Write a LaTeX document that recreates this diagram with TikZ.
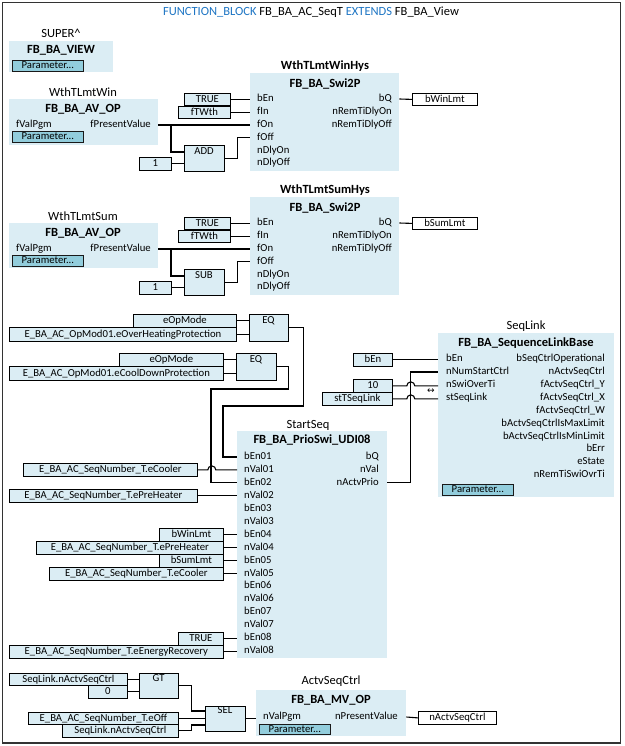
\documentclass[tikz,border=0pt]{standalone}
\usepackage{fontspec}
\setmainfont{Carlito}
\newfontfamily\dejavu{DejaVu Sans}
\definecolor{fbfill}{RGB}{219,237,244}
\definecolor{parfill}{RGB}{146,205,220}
\definecolor{tblue}{RGB}{31,118,196}
\begin{document}
\begin{tikzpicture}[x=1pt,y=-1pt,
 pinf/.style={font=\fontsize{10.7}{12}\selectfont, inner sep=0pt, text height=7.3pt, text depth=2pt},
 pinl/.style={pinf, anchor=west},
 pinr/.style={pinf, anchor=east},
 lbl/.style={font=\fontsize{12.5}{14}\selectfont, inner sep=0pt},
 ttl/.style={font=\bfseries\fontsize{12.5}{14}\selectfont, inner sep=0pt},
 sz/.style 2 args={minimum width=#1pt, minimum height=#2pt},
 fb/.style={fill=fbfill, draw=none, inner sep=0pt, anchor=north west},
 inbox/.style={pinf, fill=fbfill, draw=black, line width=0.8pt, anchor=north west},
 outbox/.style={pinf, fill=white, draw=black, line width=0.8pt, anchor=north west},
 parbtn/.style={pinf, fill=parfill, draw=black!90, line width=0.8pt, anchor=north west},
 wire/.style={line width=1.1pt, black}]
\useasboundingbox (0,0) rectangle (624,746);
\fill[white] (0,0) rectangle (624,746);
\draw[line width=1.3pt, black!80] (2.5,2.5) rectangle (620.5,743);

% title
\node[lbl] (title) at (311,12) {\textcolor{tblue}{FUNCTION\_BLOCK} FB\_BA\_AC\_SeqT \textcolor{tblue}{EXTENDS} FB\_BA\_View};

% SUPER
\node[lbl] (superlbl) at (61,33) {SUPER\textasciicircum};
\node[fb, sz={104}{31}] (view) at (9,41) {};
\node[ttl] (viewt) at (61,50) {FB\_BA\_VIEW};
\node[parbtn, sz={71}{11}] (viewp) at (12,60) {Parameter...};

% WthTLmtWin
\node[lbl] (avwl) at (83,92) {WthTLmtWin};
\node[fb, sz={149}{46}] (avw) at (9,99) {};
\node[ttl] (avwt) at (83,109) {FB\_BA\_AV\_OP};
\node[pinl] (avwin) at (16,125) {fValPgm};
\node[pinr] (avwout) at (151,125) {fPresentValue};
\node[parbtn, sz={71}{11}] (avwp) at (12,131) {Parameter...};

% WthTLmtWinHys
\node[ttl] (sw1l) at (325,66) {WthTLmtWinHys};
\node[fb, sz={149}{98}] (sw1) at (250,73) {};
\node[ttl] (sw1t) at (325,84) {FB\_BA\_Swi2P};
\foreach \t [count=\i from 0] in {bEn,fIn,fOn,fOff,nDlyOn,nDlyOff}
  \node[pinl] (sw1i\i) at (257,{99+12.85*\i}) {\t};
\foreach \t [count=\i from 0] in {bQ,nRemTiDlyOn,nRemTiDlyOff}
  \node[pinr] (sw1o\i) at (392,{99+12.85*\i}) {\t};
\node[inbox, sz={46}{12}] (tru1) at (184,93) {TRUE};
\node[inbox, sz={52}{12}] (ftw1) at (178,106) {fTWth};
\node[outbox, sz={65}{12}] (bwin) at (412,93) {bWinLmt};
\node[inbox, sz={40}{26}] (add1) at (184,145) {};
\node[pinf] (add1t) at (204,152) {ADD};
\node[inbox, sz={32}{13}] (one1) at (139,157) {1};
\coordinate (add1a) at (184,152);
\coordinate (br1) at (171,125);

\draw[wire] (tru1.east) -- (tru1.east -| sw1.west);
\draw[wire] (ftw1.east) -- (ftw1.east -| sw1.west);
\draw[wire] (sw1o0.east -| sw1.east) -- (bwin.west);
\draw[wire] (avwout.east -| avw.east) -- (avwout.east -| sw1.west);
\draw[wire] (br1) |- (add1a);
\draw[wire] (one1.east) -- (one1.east -| add1.west);
\draw[wire] (add1.east) -- ++(13,0) |- (sw1i3.west -| sw1.west);

% WthTLmtSum
\node[lbl] (avsl) at (83,216) {WthTLmtSum};
\node[fb, sz={149}{45}] (avs) at (9,223) {};
\node[ttl] (avst) at (83,233) {FB\_BA\_AV\_OP};
\node[pinl] (avsin) at (16,249) {fValPgm};
\node[pinr] (avsout) at (151,249) {fPresentValue};
\node[parbtn, sz={71}{11}] (avsp) at (12,255) {Parameter...};

% WthTLmtSumHys
\node[ttl] (sw2l) at (325,190) {WthTLmtSumHys};
\node[fb, sz={149}{98}] (sw2) at (250,197) {};
\node[ttl] (sw2t) at (325,208) {FB\_BA\_Swi2P};
\foreach \t [count=\i from 0] in {bEn,fIn,fOn,fOff,nDlyOn,nDlyOff}
  \node[pinl] (sw2i\i) at (257,{223+12.85*\i}) {\t};
\foreach \t [count=\i from 0] in {bQ,nRemTiDlyOn,nRemTiDlyOff}
  \node[pinr] (sw2o\i) at (392,{223+12.85*\i}) {\t};
\node[inbox, sz={46}{12}] (tru2) at (184,217) {TRUE};
\node[inbox, sz={52}{12}] (ftw2) at (178,230) {fTWth};
\node[outbox, sz={65}{12}] (bsum) at (412,217) {bSumLmt};
\node[inbox, sz={40}{26}] (sub2) at (184,269) {};
\node[pinf] (sub2t) at (204,276) {SUB};
\node[inbox, sz={32}{13}] (one2) at (139,281) {1};
\coordinate (sub2a) at (184,276);
\coordinate (br2) at (171,249);

\draw[wire] (tru2.east) -- (tru2.east -| sw2.west);
\draw[wire] (ftw2.east) -- (ftw2.east -| sw2.west);
\draw[wire] (sw2o0.east -| sw2.east) -- (bsum.west);
\draw[wire] (avsout.east -| avs.east) -- (avsout.east -| sw2.west);
\draw[wire] (br2) |- (sub2a);
\draw[wire] (one2.east) -- (one2.east -| sub2.west);
\draw[wire] (sub2.east) -- ++(13,0) |- (sw2i3.west -| sw2.west);

% EQ blocks
\node[inbox, sz={103}{13}] (op1) at (133,314) {eOpMode};
\node[inbox, sz={227}{14}] (ohp) at (9,327) {E\_BA\_AC\_OpMod01.eOverHeatingProtection};
\node[inbox, sz={39}{27}] (eq1) at (249,314) {};
\node[pinf] (eq1t) at (268.5,320.5) {EQ};
\node[inbox, sz={104}{13}] (op2) at (119,353) {eOpMode};
\node[inbox, sz={214}{14}] (cdp) at (9,366) {E\_BA\_AC\_OpMod01.eCoolDownProtection};
\node[inbox, sz={40}{27}] (eq2) at (236,353) {};
\node[pinf] (eq2t) at (256,359.5) {EQ};
\draw[wire] (op1.east) -- (op1.east -| eq1.west);
\draw[wire] (ohp.east) -- (ohp.east -| eq1.west);
\draw[wire] (op2.east) -- (op2.east -| eq2.west);
\draw[wire] (cdp.east) -- (cdp.east -| eq2.west);

% StartSeq
\node[lbl] (ssl) at (308,425) {StartSeq};
\node[fb, sz={150}{227}] (ss) at (237,431) {};
\node[ttl] (sst) at (312,440) {FB\_BA\_PrioSwi\_UDI08};
\foreach \t [count=\i from 0] in {bEn01,nVal01,bEn02,nVal02,bEn03,nVal03,bEn04,nVal04,bEn05,nVal05,bEn06,nVal06,bEn07,nVal07,bEn08,nVal08}
  \node[pinl] (ssi\i) at (244,{457+12.93*\i}) {\t};
\foreach \t [count=\i from 0] in {bQ,nVal,nActvPrio}
  \node[pinr] (sso\i) at (379,{457+12.93*\i}) {\t};

\node[inbox, sz={174}{13}] (ecool1) at (23,463) {E\_BA\_AC\_SeqNumber\_T.eCooler};
\node[inbox, sz={188}{13}] (eph1) at (9,489) {E\_BA\_AC\_SeqNumber\_T.ePreHeater};
\node[inbox, sz={64}{13}] (bwl) at (159,528) {bWinLmt};
\node[inbox, sz={187}{13}] (eph2) at (36,541) {E\_BA\_AC\_SeqNumber\_T.ePreHeater};
\node[inbox, sz={64}{13}] (bsl) at (159,554) {bSumLmt};
\node[inbox, sz={174}{13}] (ecool2) at (49,567) {E\_BA\_AC\_SeqNumber\_T.eCooler};
\node[inbox, sz={45}{13}] (tru3) at (178,632) {TRUE};
\node[inbox, sz={214}{13}] (eer) at (9,645) {E\_BA\_AC\_SeqNumber\_T.eEnergyRecovery};

\draw[wire] (eq1.east) -- ++(15,0) |- (223,406) |- (ssi0.west -| ss.west);
\draw[wire] (eq2.east) -- ++(12,0) |- (211,389) |- (ssi2.west -| ss.west);
\draw[wire] (ecool1.east) -- ++(10,0) arc[start angle=180,end angle=0,radius=4pt] -- (ecool1.east -| ss.west);
\draw[wire] (eph1.east) -- (eph1.east -| ss.west);
\foreach \n in {bwl,eph2,bsl,ecool2,tru3,eer}
  \draw[wire] (\n.east) -- (\n.east -| ss.west);

% SeqLink
\node[lbl] (sll) at (526,326) {SeqLink};
\node[fb, sz={176}{164}] (sl) at (438,333) {};
\node[ttl] (slt) at (526,343) {FB\_BA\_SequenceLinkBase};
\foreach \t [count=\i from 0] in {bEn,nNumStartCtrl,nSwiOverTi,stSeqLink}
  \node[pinl] (sli\i) at (446,{359+12.95*\i}) {\t};
\foreach \t [count=\i from 0] in {bSeqCtrlOperational,nActvSeqCtrl,fActvSeqCtrl\_Y,fActvSeqCtrl\_X,fActvSeqCtrl\_W,bActvSeqCtrlIsMaxLimit,bActvSeqCtrlIsMinLimit,bErr,eState,nRemTiSwiOvrTi}
  \node[pinr] (slo\i) at (605,{359+12.9*\i}) {\t};
\node[parbtn, sz={71}{11}] (slp) at (442,484) {Parameter...};
\node[inbox, sz={39}{13}] (slen) at (353,353) {bEn};
\node[inbox, sz={39}{13}] (sl10) at (353,379) {10};
\node[inbox, sz={70}{13}] (sltst) at (322,392) {stTSeqLink};
\node[font=\dejavu\fontsize{9}{10}\selectfont, inner sep=0pt] (inout) at (431,391.5) {↔};

\draw[wire] (slen.east) -- (slen.east -| sl.west);
\draw[wire] (sl10.east) -- ++(14,0) arc[start angle=180,end angle=0,radius=4pt] -- (sl10.east -| sl.west);
\draw[wire] (sltst.east) -- ++(14,0) arc[start angle=180,end angle=0,radius=4pt] -- (sltst.east -| sl.west);
\draw[wire] (sso2.east -| ss.east) -- ++(23,0) |- (sli1.west -| sl.west);

% ActvSeqCtrl
\node[inbox, sz={118}{12}] (nA) at (9,673) {SeqLink.nActvSeqCtrl};
\node[inbox, sz={39}{13}] (zero) at (88,685) {0};
\node[inbox, sz={39}{25}] (gt) at (139,673) {};
\node[pinf] (gtt) at (158.5,678.5) {GT};
\node[inbox, sz={150}{12}] (eoff) at (28,712) {E\_BA\_AC\_SeqNumber\_T.eOff};
\node[inbox, sz={116}{13}] (nB) at (62,724) {SeqLink.nActvSeqCtrl};
\node[inbox, sz={40}{25}] (sel) at (205,706) {};
\node[pinf] (selt) at (225,711) {SEL};
\coordinate (sela) at (205,711);
\coordinate (selc) at (205,725);

\node[lbl] (mvl) at (331,681) {ActvSeqCtrl};
\node[fb, sz={150}{46}] (mv) at (256,690) {};
\node[ttl] (mvt) at (331,700) {FB\_BA\_MV\_OP};
\node[pinl] (mvin) at (263,717) {nValPgm};
\node[pinr] (mvout) at (398,717) {nPresentValue};
\node[parbtn, sz={71}{10}] (mvp) at (259,724) {Parameter...};
\node[outbox, sz={78}{13}] (nout) at (418,711) {nActvSeqCtrl};

\draw[wire] (nA.east) -- (nA.east -| gt.west);
\draw[wire] (zero.east) -- (zero.east -| gt.west);
\draw[wire] (gt.east) -- ++(13,0) |- (sela);
\draw[wire] (eoff.east) -- (eoff.east -| sel.west);
\draw[wire] (nB.east) -- ++(13,0) |- (selc);
\draw[wire] (sel.east) -- (sel.east -| mv.west);
\draw[wire] (mvout.east -| mv.east) -- (nout.west);
\end{tikzpicture}
\end{document}
